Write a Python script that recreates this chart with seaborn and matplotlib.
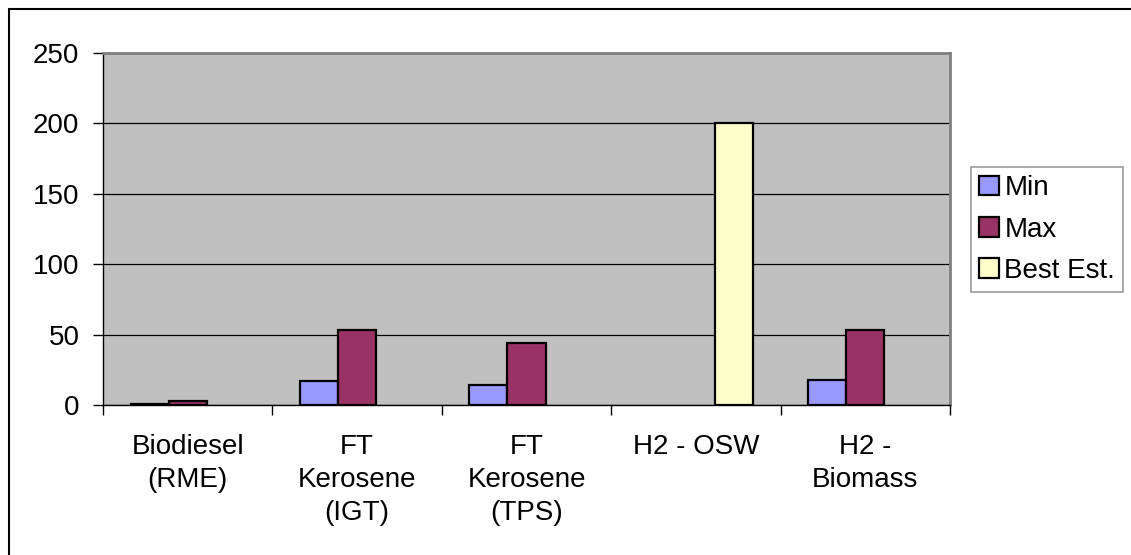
import numpy as np
import pandas as pd
import matplotlib.pyplot as plt
import seaborn as sns
from matplotlib.lines import Line2D
from matplotlib.ticker import FixedLocator

# --- data ---
categories = ["Biodiesel\n(RME)", "FT\nKerosene\n(IGT)", "FT\nKerosene\n(TPS)", "H2 - OSW", "H2 -\nBiomass"]
min_vals = [1, 17, 14, np.nan, 18]
max_vals = [3, 53, 44, np.nan, 53]
best_vals = [np.nan, np.nan, np.nan, 200, np.nan]
series = ["Min", "Max", "Best Est."]
colors = {"Min": "#9999FF", "Max": "#993366", "Best Est.": "#FFFFCC"}

df = pd.DataFrame({
    "cat": categories * 3,
    "series": ["Min"] * 5 + ["Max"] * 5 + ["Best Est."] * 5,
    "value": min_vals + max_vals + best_vals,
})

sns.set_style("white")
plt.rcParams["font.family"] = ["Liberation Sans", "DejaVu Sans"]
plt.rcParams["font.size"] = 20
plt.rcParams["text.color"] = "black"
plt.rcParams["xtick.color"] = "black"
plt.rcParams["ytick.color"] = "black"

W, H = 1131, 555
fig = plt.figure(figsize=(W / 100, H / 100), dpi=100)
ax = fig.add_axes([103 / W, 1 - 405 / H, (950 - 103) / W, (405 - 53) / H])
ax.set_facecolor("#C0C0C0")

sns.barplot(data=df, x="cat", y="value", hue="series", hue_order=series,
            order=categories, palette=colors, saturation=1, errorbar=None, width=0.675,
            edgecolor="black", linewidth=1.6, ax=ax, zorder=3)

ax.set_ylim(0, 250)
ax.set_xlim(-0.5, len(categories) - 0.5)
ax.set_yticks([0, 50, 100, 150, 200, 250])
ax.yaxis.grid(True, color="black", linewidth=0.9, zorder=0)
ax.set_axisbelow(True)
ax.set_xlabel("")
ax.set_ylabel("")

# category separators as major ticks, names on minor ticks
ax.xaxis.set_major_locator(FixedLocator(np.arange(-0.5, len(categories), 1.0)))
ax.xaxis.set_minor_locator(FixedLocator(np.arange(len(categories))))
ax.set_xticklabels([""] * (len(categories) + 1))
ax.set_xticklabels(categories, minor=True)
ax.tick_params(axis="x", which="major", direction="out", length=7, width=1, color="black", bottom=True)
ax.tick_params(axis="x", which="minor", length=0, pad=21, labelsize=20, labelcolor="black")
ax.tick_params(axis="y", direction="out", length=7, width=1, color="black", pad=10, left=True,
               labelsize=20, labelcolor="black")
for lab in ax.get_xticklabels(minor=True):
    lab.set_linespacing(1.35)

for side in ["top", "right"]:
    ax.spines[side].set_color("#808080")
    ax.spines[side].set_linewidth(2)
for side in ["left", "bottom"]:
    ax.spines[side].set_color("black")
    ax.spines[side].set_linewidth(1)

handles, labels = ax.get_legend_handles_labels()
ax.get_legend().remove()
leg = fig.legend(handles, labels, loc="upper left", bbox_to_anchor=(971 / W, 1 - 167 / H),
                 borderaxespad=0, frameon=True, fancybox=False, fontsize=20,
                 handlelength=0.7, handleheight=0.7, handletextpad=0.2,
                 labelspacing=0.55, borderpad=0.3)
leg.get_frame().set_edgecolor("#808080")
leg.get_frame().set_linewidth(1.2)

# outer chart border
fig.add_artist(Line2D([9 / W, 9 / W], [0, 1 - 9 / H], color="black", linewidth=1.5))
fig.add_artist(Line2D([9 / W, 1], [1 - 9 / H, 1 - 9 / H], color="black", linewidth=1.5))

fig.savefig("out.png", dpi=100)
